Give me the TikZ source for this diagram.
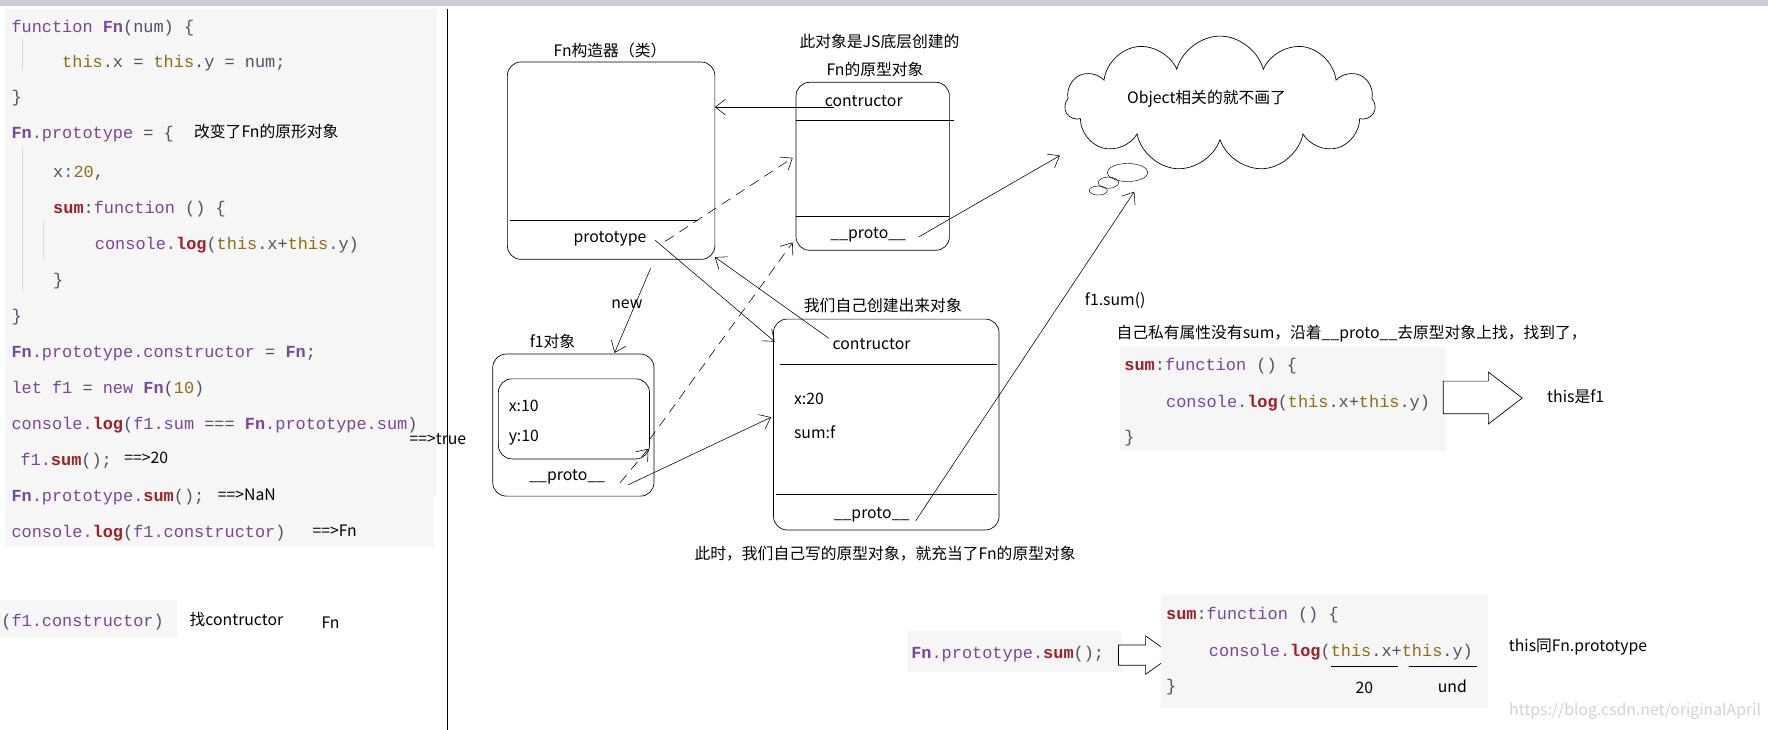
\documentclass[tikz,border=0pt]{standalone}
\usepackage{fontspec}
\setmainfont{Noto Sans CJK SC}
\newfontfamily\codefont{Liberation Mono}
\usetikzlibrary{arrows.meta,shapes.symbols}
\definecolor{kw}{RGB}{122,70,150}
\definecolor{th}{RGB}{140,110,20}
\definecolor{rd}{RGB}{160,30,40}
\definecolor{pl}{RGB}{80,80,100}
\definecolor{codebg}{RGB}{246,246,246}
\newcommand\ckw[1]{\textcolor{kw}{#1}}
\newcommand\cth[1]{\textcolor{th}{#1}}
\newcommand\crd[1]{\textcolor{rd}{\bfseries #1}}
\newcommand\cpl[1]{\textcolor{pl}{#1}}
\newcommand\cfn{\textcolor{kw}{\bfseries Fn}}
\begin{document}
\begin{tikzpicture}[x=1pt,y=-1pt,
  code/.style={anchor=base west,inner sep=0pt,font=\codefont\fontsize{15}{17}\selectfont},
  lbl/.style={inner sep=0pt,font=\fontsize{14}{16}\selectfont},
  box/.style={draw,rounded corners=12pt,line width=0.6pt},
  con/.style={line width=0.5pt,-{Straight Barb[length=9pt,width=14pt]}},
  dcon/.style={con,dash pattern=on 9pt off 6pt}]
\useasboundingbox (0,0) rectangle (1568,647);
\fill[blue!15!gray!35] (0,0) rectangle (1568,5);
% code panel
\fill[codebg] (4,8) rectangle (388,440);
\fill[codebg] (4,440) rectangle (385,485);
\draw[gray!30] (20,35) -- (20,62) (20,130) -- (20,258) (38,196) -- (38,230);
\draw[black] (397,8) -- (397,647);
\node[code] (c1) at (10,29) {\ckw{function}~\cfn\cpl{(num)~\{}};
\node[code] (c2) at (55,60) {\cth{this}\cpl{.x~=~}\cth{this}\cpl{.y~=~num;}};
\node[code] (c3) at (10,91) {\cpl{\}}};
\node[code] (c4) at (10,123) {\cfn\ckw{.prototype}\cpl{~=~\{}};
\node[lbl,anchor=base west] (a1) at (172,122) {改变了Fn的原形对象};
\node[code] (c5) at (47,157) {\cpl{x:}\cth{20}\cpl{,}};
\node[code] (c6) at (47,189) {\crd{sum}\cpl{:}\ckw{function}\cpl{~()~\{}};
\node[code] (c7) at (84,221) {\ckw{console.}\crd{log}\cpl{(}\cth{this}\cpl{.x+}\cth{this}\cpl{.y)}};
\node[code] (c8) at (47,253) {\cpl{\}}};
\node[code] (c9) at (10,285) {\cpl{\}}};
\node[code] (c10) at (10,317) {\cfn\ckw{.prototype.constructor}\cpl{~=~}\cfn\cpl{;}};
\node[code] (c11) at (10,349) {\ckw{let~f1}\cpl{~=~}\ckw{new}~\cfn\cpl{(}\cth{10}\cpl{)}};
\node[code] (c12) at (10,381) {\ckw{console.}\crd{log}\cpl{(}\ckw{f1.sum}\cpl{~===~}\cfn\ckw{.prototype.sum}\cpl{)}};
\node[lbl,anchor=base west] (t1) at (363,394) {==>true};
\node[code] (c13) at (18,413) {\ckw{f1.}\crd{sum}\cpl{();}};
\node[lbl,anchor=base west] (t2) at (110,411) {==>20};
\node[code] (c14) at (10,445) {\cfn\ckw{.prototype.}\crd{sum}\cpl{();}};
\node[lbl,anchor=base west] (t3) at (193,444) {==>NaN};
\node[code] (c15) at (10,477) {\ckw{console.}\crd{log}\cpl{(}\ckw{f1.constructor}\cpl{)}};
\node[lbl,anchor=base west] (t4) at (277,476) {==>Fn};
\fill[codebg] (0,532) rectangle (157,565);
\node[code] (c16) at (1,556) {\cpl{(}\ckw{f1.constructor}\cpl{)}};
\node[lbl,anchor=base west] (t5) at (168,555) {找contructor};
\node[lbl,anchor=base west] (t6) at (285,557) {Fn};
% Fn box
\node[lbl] (fnt) at (541,45) {Fn构造器（类）};
\draw[box] (450,55) rectangle (634,230);
\draw (452,195) -- (619,195);
\node[lbl] (fnp) at (541,212) {prototype};
\coordinate (fn) at (634,95);
% prototype object
\node[lbl] (pt1) at (780,37) {此对象是JS底层创建的};
\node[lbl] (pt2) at (776,62) {Fn的原型对象};
\draw[box] (706,73) rectangle (842,222);
\draw (706,107) -- (846,107);
\draw (706,192) -- (842,192);
\node[lbl] (pc) at (766,90) {contructor};
\node[lbl] (pp) at (770,208) {\_\_proto\_\_};
% cloud
\node[cloud,draw,cloud puffs=11,aspect=2.3,minimum width=275pt,minimum height=120pt,line width=0.6pt] (cloud) at (1082,92) {};
\node[lbl] (ct) at (1070,88) {Object相关的就不画了};
\draw (1000,153) ellipse (18pt and 8pt);
\draw (983,162) ellipse (9pt and 5pt);
\draw (974,169) ellipse (8pt and 4pt);
\coordinate (cl1) at (940,138);
\coordinate (cl2) at (1006,170);
% f1 box
\node[lbl] (f1t) at (490,303) {f1对象};
\draw[box] (437,314) rectangle (580,440);
\draw[box] (442,336) rectangle (576,407);
\node[lbl,anchor=west] (f1x) at (451,360) {x:10};
\node[lbl,anchor=west] (f1y) at (451,388) {y:10};
\node[lbl] (f1p) at (503,423) {\_\_proto\_\_};
\node[lbl] (new) at (556,270) {new};
% own prototype
\node[lbl] (ot) at (783,271) {我们自己创建出来对象};
\draw[box] (686,283) rectangle (886,470);
\draw (692,323) -- (884,323);
\draw (688,438) -- (884,438);
\node[lbl] (oc) at (773,305) {contructor};
\node[lbl,anchor=west] (ox) at (704,354) {x:20};
\node[lbl,anchor=west] (os) at (704,383) {sum:f};
\node[lbl] (op) at (773,457) {\_\_proto\_\_};
\node[lbl] (cap) at (785,491) {此时，我们自己写的原型对象，就充当了Fn的原型对象};
% connectors
\draw[con] (740,95) -- (fn);
\draw[con] (815,210) -- (cl1);
\draw[con] (577,238) -- (545,313);
\draw[dcon] (590,214) -- (703,140);
\draw[dcon] (576,390) -- (703,215);
\draw[dcon] (550,428) -- (575,398);
\draw[con] (735,300) -- (634,228);
\draw[con] (581,213) -- (687,303);
\draw[con] (557,430) -- (684,370);
\draw[con] (812,462) -- (cl2);
% right explanation
\node[lbl,anchor=base west] (fs) at (962,271) {f1.sum()};
\node[lbl,anchor=base west] (ex) at (990,300) {自己私有属性没有sum，沿着\_\_proto\_\_去原型对象上找，找到了，};
\fill[codebg] (993,308) rectangle (1282,400);
\node[code] (r1) at (997,329) {\crd{sum}\cpl{:}\ckw{function}\cpl{~()~\{}};
\node[code] (r2) at (1034,361) {\ckw{console.}\crd{log}\cpl{(}\cth{this}\cpl{.x+}\cth{this}\cpl{.y)}};
\node[code] (r3) at (997,392) {\cpl{\}}};
\draw[fill=white,line width=0.6pt] (1280,338) -- (1320,338) -- (1320,330) -- (1350,353) -- (1320,376) -- (1320,367) -- (1280,367) -- cycle;
\node[lbl,anchor=west] (tf) at (1372,352) {this是f1};
% bottom
\fill[codebg] (804,560) rectangle (995,596);
\node[code] (b0) at (808,584) {\cfn\ckw{.prototype.}\crd{sum}\cpl{();}};
\draw[fill=white,line width=0.6pt] (992,572) -- (1016,572) -- (1016,564) -- (1040,581) -- (1016,598) -- (1016,590) -- (992,590) -- cycle;
\fill[codebg] (1030,528) rectangle (1320,628);
\node[code] (b1) at (1034,549) {\crd{sum}\cpl{:}\ckw{function}\cpl{~()~\{}};
\node[code] (b2) at (1072,582) {\ckw{console.}\crd{log}\cpl{(}\cth{this}\cpl{.x+}\cth{this}\cpl{.y)}};
\node[code] (b3) at (1034,613) {\cpl{\}}};
\draw (1180,591) -- (1240,591) (1250,591) -- (1310,591);
\node[lbl] (n20) at (1210,610) {20};
\node[lbl] (und) at (1288,609) {und};
\node[lbl,anchor=west] (tfp) at (1338,574) {this同Fn.prototype};
\node[lbl,anchor=east,text=gray!35] (wm) at (1562,631) {https://blog.csdn.net/originalApril};
\end{tikzpicture}
\end{document}
